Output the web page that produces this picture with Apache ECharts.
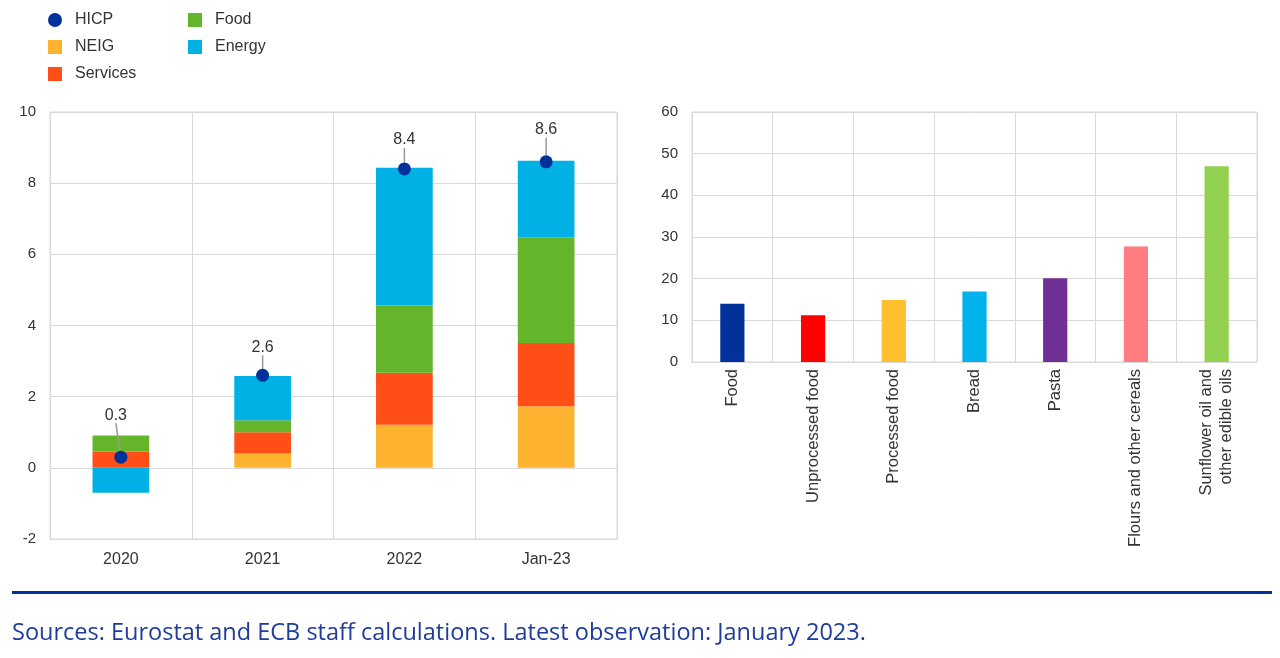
<!DOCTYPE html>
<html><head><meta charset="utf-8">
<script src="https://cdn.jsdelivr.net/npm/echarts@6/dist/echarts.min.js"></script>
<style>html,body{margin:0;padding:0;background:#fff}#c{width:1280px;height:658px}</style>
</head><body><div id="c"></div><script>
// ---- data ----
const years = ['2020', '2021', '2022', 'Jan-23'];
const hicp = [0.3, 2.6, 8.4, 8.6];
const neig = [0.0, 0.4, 1.21, 1.73];
const services = [0.46, 0.6, 1.46, 1.78];
const food = [0.45, 0.34, 1.89, 2.97];
const energy = [-0.7, 1.24, 3.87, 2.15];

const foodItems = ['Food', 'Unprocessed food', 'Processed food', 'Bread', 'Pasta',
  'Flours and other cereals', 'Sunflower oil and\nother edible oils'];
const foodInflation = [14.0, 11.2, 14.9, 16.9, 20.1, 27.7, 47.0];

const leftAxis = { min: -2, max: 10, step: 2 };
const rightAxis = { min: 0, max: 60, step: 10 };

// ---- styles / layout ----
const foodColors = ['#003299', '#FF0000', '#FFBF2F', '#00B1EA', '#6F2F95', '#FF7C80', '#92D050'];
const labelOffsets = [[-5, -42], [0, -28], [0, -29], [0, -32]];
const FONT = 'Liberation Sans, Arial, sans-serif';
const TXT = '#333333';
const GRID = '#d9d9d9';

const chart = echarts.init(document.getElementById('c'));
const legendText = { fontSize: 16, color: TXT, fontFamily: FONT, padding: [0, 0, 0, 8] };

const option = {
  animation: false,
  textStyle: { fontFamily: FONT },
  legend: [
    { data: [{ name: 'HICP', icon: 'circle' }, { name: 'NEIG', icon: 'rect' }, { name: 'Services', icon: 'rect' }],
      orient: 'vertical', left: 48, top: 12, padding: 0, itemWidth: 14, itemHeight: 14, itemGap: 11,
      textStyle: legendText, selectedMode: false },
    { data: [{ name: 'Food', icon: 'rect' }, { name: 'Energy', icon: 'rect' }],
      orient: 'vertical', left: 188, top: 12, padding: 0, itemWidth: 14, itemHeight: 14, itemGap: 11,
      textStyle: legendText, selectedMode: false }
  ],
  grid: [
    { left: 50, top: 112, width: 567, height: 427, show: true, borderColor: GRID, borderWidth: 1 },
    { left: 692, top: 112, width: 565, height: 250, show: true, borderColor: GRID, borderWidth: 1 }
  ],
  xAxis: [
    { type: 'category', gridIndex: 0, data: years, boundaryGap: true,
      axisLine: { onZero: false, lineStyle: { color: GRID } }, axisTick: { show: false },
      axisLabel: { color: TXT, fontSize: 16, margin: 13 },
      splitLine: { show: true, lineStyle: { color: GRID } } },
    { type: 'category', gridIndex: 1, data: foodItems, boundaryGap: true,
      axisLine: { lineStyle: { color: GRID } }, axisTick: { show: false },
      axisLabel: { color: TXT, fontSize: 16.5, margin: 7, rotate: 90, interval: 0, lineHeight: 20 },
      splitLine: { show: true, lineStyle: { color: GRID } } }
  ],
  yAxis: [
    { type: 'value', gridIndex: 0, min: leftAxis.min, max: leftAxis.max, interval: leftAxis.step,
      axisLine: { show: false }, axisTick: { show: false },
      axisLabel: { color: TXT, fontSize: 15, margin: 14 },
      splitLine: { lineStyle: { color: GRID } } },
    { type: 'value', gridIndex: 1, min: rightAxis.min, max: rightAxis.max, interval: rightAxis.step,
      axisLine: { show: false }, axisTick: { show: false },
      axisLabel: { color: TXT, fontSize: 15, margin: 14 },
      splitLine: { lineStyle: { color: GRID } } }
  ],
  series: [
    { name: 'NEIG', type: 'bar', stack: 'c', data: neig, barWidth: '40%', itemStyle: { color: '#FDB32F' } },
    { name: 'Services', type: 'bar', stack: 'c', data: services, itemStyle: { color: '#FF4F17' } },
    { name: 'Food', type: 'bar', stack: 'c', data: food, itemStyle: { color: '#65B52B' } },
    { name: 'Energy', type: 'bar', stack: 'c', data: energy, itemStyle: { color: '#00B1E6' } },
    { name: 'HICP', type: 'scatter', data: hicp, symbolSize: 13, z: 5,
      itemStyle: { color: '#003299', opacity: 1 },
      label: { show: true, position: 'inside', color: TXT, fontSize: 16,
        formatter: p => p.value.toFixed(1) },
      labelLayout: p => ({ dx: labelOffsets[p.dataIndex][0], dy: labelOffsets[p.dataIndex][1] }),
      labelLine: { show: true, lineStyle: { color: '#999999', width: 1.5 } } },
    { name: 'Food inflation', type: 'bar', xAxisIndex: 1, yAxisIndex: 1, data: foodInflation, barWidth: '30%',
      itemStyle: { color: p => foodColors[p.dataIndex] } }
  ],
  graphic: [
    { type: 'rect', left: 12, top: 591, shape: { width: 1260, height: 3 }, style: { fill: '#003299' } },
    { type: 'text', x: 12, y: 633,
      style: { text: 'Sources: Eurostat and ECB staff calculations. Latest observation: January 2023.',
        fill: '#1E3C9C', fontSize: 23.5, fontFamily: 'Open Sans', verticalAlign: 'middle' } }
  ]
};
chart.setOption(option);
</script></body></html>
